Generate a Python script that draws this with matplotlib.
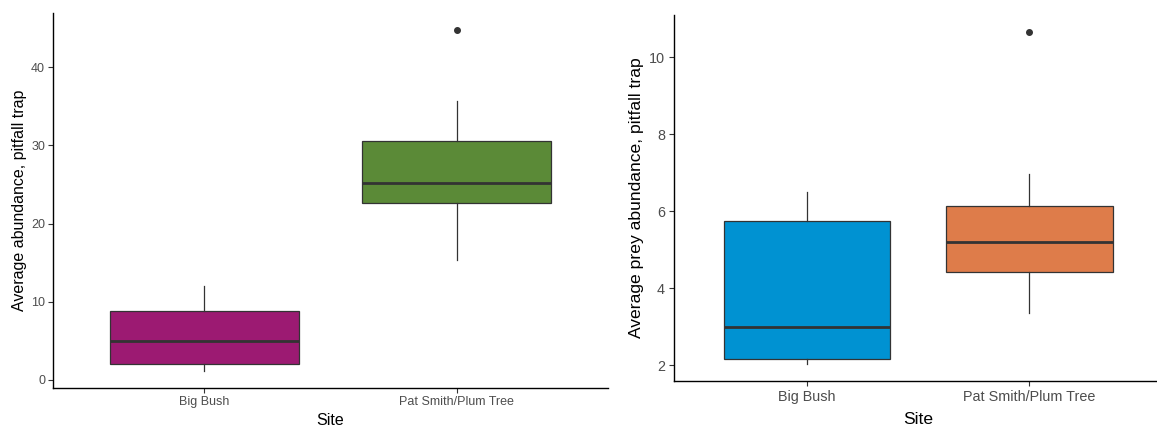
import matplotlib
matplotlib.use("Agg")
import matplotlib.pyplot as plt

plt.rcParams['font.family'] = ['Liberation Sans', 'DejaVu Sans']

# ---- data ----
sites = ["Big Bush", "Pat Smith/Plum Tree"]

# Left panel: Average abundance, pitfall trap
ab_q1 = [2.0, 22.65]
ab_med = [5.0, 25.2]
ab_q3 = [8.8, 30.55]
ab_lo = [1.15, 15.4]
ab_hi = [12.0, 35.65]
ab_fliers = [[], [44.75]]
ab_colors = ["#9C1A72", "#5B8A37"]

# Right panel: Average prey abundance, pitfall trap
pr_q1 = [2.16, 4.42]
pr_med = [3.0, 5.19]
pr_q3 = [5.75, 6.15]
pr_lo = [2.03, 3.35]
pr_hi = [6.51, 6.98]
pr_fliers = [[], [10.66]]
pr_colors = ["#0092D2", "#DE7C4A"]

W, H = 1157, 428
fig = plt.figure(figsize=(W / 100, H / 100), dpi=100)


def make_panel(rect, q1, med, q3, lo, hi, fliers, colors, ylabel, ticks,
               tick_fs, title_fs, ylab_x, xlab_y, xpad, ypad):
    ax = fig.add_axes(rect)
    stats = []
    for i in range(len(sites)):
        stats.append(dict(q1=q1[i], med=med[i], q3=q3[i], whislo=lo[i],
                          whishi=hi[i], fliers=fliers[i], label=sites[i]))
    bp = ax.bxp(stats, positions=[1, 2], widths=0.75, patch_artist=True,
                showcaps=False,
                boxprops=dict(edgecolor="#333333", linewidth=0.9),
                medianprops=dict(color="#333333", linewidth=2.0,
                                 solid_capstyle="butt"),
                whiskerprops=dict(color="#333333", linewidth=0.9),
                flierprops=dict(marker="o", markerfacecolor="#333333",
                                markeredgecolor="#333333", markersize=4))
    for patch, c in zip(bp["boxes"], colors):
        patch.set_facecolor(c)
    allv = lo + hi + [v for f in fliers for v in f]
    vmin, vmax = min(allv), max(allv)
    pad = 0.05 * (vmax - vmin)
    ax.set_ylim(vmin - pad, vmax + pad)
    ax.set_xlim(0.4, 2.6)
    ax.set_yticks(ticks)
    ax.set_xticks([1, 2])
    ax.set_xticklabels(sites)
    for s in ["top", "right"]:
        ax.spines[s].set_visible(False)
    for s in ["left", "bottom"]:
        ax.spines[s].set_color("black")
        ax.spines[s].set_linewidth(1.0)
    ax.tick_params(axis="both", colors="#333333", labelcolor="#4D4D4D",
                   labelsize=tick_fs, length=3.5, width=0.8)
    ax.tick_params(axis="x", pad=xpad)
    ax.tick_params(axis="y", pad=ypad)
    ax.set_ylabel(ylabel, fontsize=title_fs, color="black", va="center")
    ax.yaxis.set_label_coords(ylab_x, 0.5)
    ax.set_xlabel("Site", fontsize=title_fs, color="black", va="center")
    ax.xaxis.set_label_coords(0.5, xlab_y)
    return ax


# left panel: pixels x 53..608, y 13..388
make_panel([53 / W, (H - 388) / H, 555 / W, 375 / H],
           ab_q1, ab_med, ab_q3, ab_lo, ab_hi, ab_fliers, ab_colors,
           "Average abundance, pitfall trap", [0, 10, 20, 30, 40],
           9.0, 11.5, (20 - 53) / 555, (388 - 420.7) / 375, 2.5, 2.2)

# right panel: pixels x 674..1162.5, y 15.3..380.7
make_panel([674 / W, (H - 380.7) / H, 488.5 / W, 365.4 / H],
           pr_q1, pr_med, pr_q3, pr_lo, pr_hi, pr_fliers, pr_colors,
           "Average prey abundance, pitfall trap", [2, 4, 6, 8, 10],
           10.4, 12.6, (636 - 674) / 488.5, (380.7 - 420) / 365.4, 3.0, 3.0)

fig.savefig("out.png", dpi=100)
